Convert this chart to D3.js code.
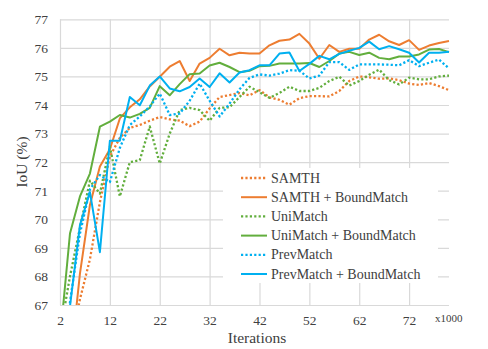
<!DOCTYPE html>
<html>
<head>
<meta charset="utf-8">
<script src="https://cdn.jsdelivr.net/npm/d3@7"></script>
<style>
  html, body { margin: 0; padding: 0; background: #fff; }
  svg { display: block; }
  text { font-family: "Liberation Serif", "Times New Roman", serif; fill: #404040; }
</style>
</head>
<body>
<svg id="chart" width="488" height="349"></svg>
<script>
const iterations = d3.range(2, 81, 2);
const xTicks = [2, 12, 22, 32, 42, 52, 62, 72];
const yTicks = [67, 68, 69, 70, 71, 72, 73, 74, 75, 76, 77];

const samth = [63.5,65.5,67.2,68.6,70.6,72.2,72.85,73.2,73.3,73.45,73.58,73.5,73.45,73.26,73.42,73.88,74.28,74.35,74.42,74.34,74.52,74.27,74.18,74.01,74.24,74.31,74.31,74.3,74.49,74.84,75.0,74.97,74.92,74.93,74.87,74.75,74.7,74.77,74.66,74.52];
const samthBM = [63.0,64.8,68.1,70.5,71.85,72.45,73.53,73.92,74.2,74.65,74.99,75.34,75.54,74.84,75.45,75.65,75.97,75.74,75.83,75.8,75.8,76.09,76.25,76.29,76.49,76.15,75.62,76.1,75.86,75.97,75.97,76.29,76.46,76.23,76.1,76.27,75.93,76.08,76.17,76.24];
const uni = [66.0,68.0,69.7,71.35,70.9,72.55,70.8,72.0,72.07,73.25,71.95,73.0,73.82,73.9,73.82,73.45,73.9,73.92,74.28,74.64,74.45,74.25,74.42,74.64,74.49,74.49,74.6,74.84,74.99,74.68,74.84,75.06,75.24,74.87,74.72,74.96,74.9,74.9,75.0,75.03];
const uniBM = [65.8,69.5,70.8,71.6,73.24,73.42,73.65,73.56,73.69,73.9,74.66,74.34,74.73,75.08,75.1,75.38,75.48,75.33,75.15,75.2,75.36,75.37,75.45,75.45,75.45,75.47,75.33,75.54,75.8,75.86,75.75,75.83,75.65,75.6,75.7,75.7,75.77,75.94,75.96,75.85];
const prev = [64.0,67.1,69.5,71.05,71.55,71.3,72.5,73.3,73.6,73.95,74.4,73.65,73.7,74.15,74.75,74.15,73.6,74.05,74.55,74.95,75.07,75.03,75.1,75.22,75.2,74.93,75.03,75.5,75.5,75.23,75.42,75.42,75.42,75.41,75.39,75.57,75.36,75.48,75.59,75.28];
const prevBM = [63.0,66.95,69.8,70.95,68.85,72.75,72.75,74.28,73.99,74.68,75.0,74.58,74.48,74.63,74.93,74.63,75.11,74.79,75.14,75.22,75.39,75.39,75.8,75.84,75.19,75.44,75.72,75.6,75.79,75.9,76.0,76.22,75.95,76.06,75.95,75.83,75.49,75.83,75.83,75.86];

const seriesNames = ["SAMTH", "SAMTH + BoundMatch", "UniMatch", "UniMatch + BoundMatch", "PrevMatch", "PrevMatch + BoundMatch"];
const seriesValues = [samth, samthBM, uni, uniBM, prev, prevBM];
const seriesColors = ["#ED7D31", "#ED7D31", "#62AE3D", "#62AE3D", "#00B0F0", "#00B0F0"];
const seriesDotted = [true, false, true, false, true, false];

const svg = d3.select("#chart");
const L = 60, R = 449, T = 19.3, B = 305;
const x = d3.scaleLinear().domain([2, 80]).range([L, R]);
const y = d3.scaleLinear().domain([67, 77]).range([B, T]);

// gridlines
svg.append("g")
  .attr("transform", `translate(${L},0)`)
  .call(d3.axisLeft(y).tickValues(yTicks).tickSize(-(R - L)).tickFormat(""))
  .call(g => g.select(".domain").remove())
  .call(g => g.selectAll("line").attr("stroke", "#d9d9d9").attr("stroke-width", 1.2));
svg.append("g")
  .attr("transform", `translate(0,${B})`)
  .call(d3.axisBottom(x).tickValues(xTicks).tickSize(-(B - T)).tickFormat(""))
  .call(g => g.select(".domain").remove())
  .call(g => g.selectAll("line").attr("stroke", "#d9d9d9").attr("stroke-width", 1.2));

// tick labels
svg.append("g")
  .attr("transform", `translate(${L},0)`)
  .call(d3.axisLeft(y).tickValues(yTicks).tickSize(0).tickPadding(12).tickFormat(d3.format("d")))
  .call(g => g.select(".domain").remove())
  .call(g => g.selectAll("text").attr("font-size", "13.5px").attr("font-family", "Liberation Serif").attr("fill", "#404040"));
svg.append("g")
  .attr("transform", `translate(0,${B})`)
  .call(d3.axisBottom(x).tickValues(xTicks).tickSize(0).tickPadding(10).tickFormat(d3.format("d")))
  .call(g => g.select(".domain").remove())
  .call(g => g.selectAll("text").attr("font-size", "13.5px").attr("font-family", "Liberation Serif").attr("fill", "#404040"));

svg.append("text").attr("x", 435).attr("y", 322).attr("font-size", "11px").text("x1000");
svg.append("text").attr("x", 257).attr("y", 343).attr("text-anchor", "middle").attr("font-size", "15.5px").text("Iterations");
svg.append("text").attr("transform", "translate(27,162) rotate(-90)").attr("text-anchor", "middle").attr("font-size", "15.5px").text("IoU (%)");

// clip
svg.append("clipPath").attr("id", "plotclip")
  .append("rect").attr("x", L).attr("y", T - 5).attr("width", R - L + 2).attr("height", B - T + 5);

const line = d3.line().x((d, i) => x(iterations[i])).y(d => y(d));
const lines = svg.append("g").attr("clip-path", "url(#plotclip)");
seriesValues.forEach((vals, k) => {
  lines.append("path")
    .datum(vals)
    .attr("d", line)
    .attr("fill", "none")
    .attr("stroke", seriesColors[k])
    .attr("stroke-width", seriesDotted[k] ? 2.3 : 2)
    .attr("stroke-linejoin", "round")
    .attr("stroke-dasharray", seriesDotted[k] ? "2.2,2.2" : null);
});

// legend
const lg = svg.append("g");
lg.append("rect").attr("x", 223).attr("y", 168).attr("width", 215).attr("height", 115).attr("fill", "#fff");
seriesNames.forEach((name, k) => {
  const cy = 178 + k * 19.2;
  lg.append("line").attr("x1", 241).attr("x2", 267).attr("y1", cy).attr("y2", cy)
    .attr("stroke", seriesColors[k]).attr("stroke-width", seriesDotted[k] ? 2.3 : 2)
    .attr("stroke-dasharray", seriesDotted[k] ? "2.2,2.2" : null);
  lg.append("text").attr("x", 271).attr("y", cy).attr("dy", "0.33em").attr("font-size", "14px").text(name);
});
</script>
</body>
</html>
